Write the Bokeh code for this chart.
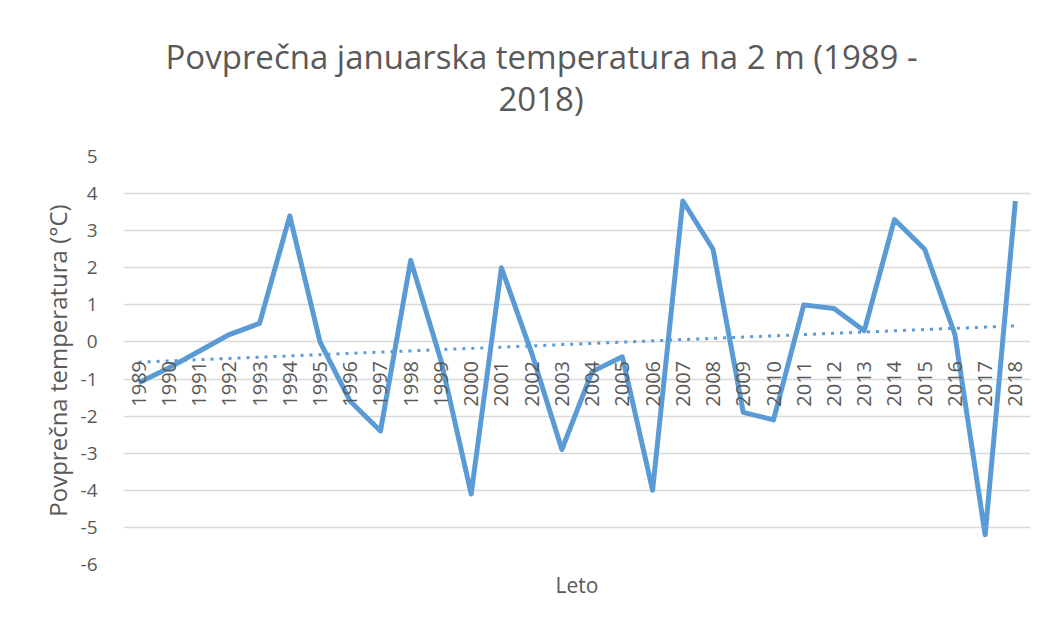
import numpy as np
from bokeh.plotting import figure
from bokeh.models import Range1d, FixedTicker, ColumnDataSource, Title
from bokeh.core.properties import value
from bokeh.embed import file_html
from bokeh.resources import INLINE

years = list(range(1989, 2019))
year_labels = [str(y) for y in years]
temps = [-1.1, -0.7, -0.25, 0.2, 0.5, 3.4, 0.0, -1.6, -2.4, 2.2,
         -0.5, -4.1, 2.0, -0.3, -2.9, -0.8, -0.4, -4.0, 3.8, 2.5,
         -1.9, -2.1, 1.0, 0.9, 0.3, 3.3, 2.5, 0.2, -5.2, 3.8]
y_ticks = [5, 4, 3, 2, 1, 0, -1, -2, -3, -4, -5, -6]

title_line1 = "Povprečna januarska temperatura na 2 m (1989 -"
title_line2 = "2018)"
FONT = "Open Sans"
GREY = "#595959"
BLUE = "#5B9BD5"

p = figure(width=1032, height=609, output_backend="svg", toolbar_location=None,
           x_range=Range1d(1988.5, 2018.5), y_range=Range1d(-6, 5),
           min_border_left=123, min_border_right=2, min_border_top=156,
           min_border_bottom=45)
p.title.visible = False

# title: two lines, stacked upward from the plot area
spacer = Title(text=" ", text_font=FONT, text_font_size="10px", standoff=20)
t2 = Title(text=title_line2, align="left", offset=375, text_font=FONT,
           text_font_size="33px", text_font_style="normal", text_color=GREY, standoff=0)
t1 = Title(text=title_line1, align="left", offset=42, text_font=FONT,
           text_font_size="33px", text_font_style="normal", text_color=GREY, standoff=-10)
p.add_layout(spacer, "above")
p.add_layout(t2, "above")
p.add_layout(t1, "above")

p.outline_line_color = None
p.background_fill_color = "white"

# y axis
p.yaxis.ticker = FixedTicker(ticks=y_ticks)
p.yaxis.major_label_overrides = {t: str(t) for t in y_ticks}
p.yaxis.axis_line_color = None
p.yaxis.major_tick_line_color = None
p.yaxis.minor_tick_line_color = None
p.yaxis.major_label_text_font = FONT
p.yaxis.major_label_text_font_size = "19px"
p.yaxis.major_label_text_color = GREY
p.yaxis.major_label_standoff = 20
p.yaxis.axis_label = "Povprečna temperatura (°C)"
p.yaxis.axis_label_text_font = FONT
p.yaxis.axis_label_text_font_size = "24px"
p.yaxis.axis_label_text_font_style = "normal"
p.yaxis.axis_label_text_color = GREY
p.yaxis.axis_label_standoff = 4

# x axis (only the title)
p.xaxis.ticker = FixedTicker(ticks=[])
p.xaxis.axis_line_color = None
p.xaxis.major_tick_line_color = None
p.xaxis.minor_tick_line_color = None
p.xaxis.major_label_text_font_size = "0px"
p.xaxis.axis_label = "Leto"
p.xaxis.axis_label_text_font = FONT
p.xaxis.axis_label_text_font_size = "21px"
p.xaxis.axis_label_text_font_style = "normal"
p.xaxis.axis_label_text_color = GREY
p.xaxis.axis_label_standoff = 6

p.xgrid.grid_line_color = None
p.ygrid.ticker = FixedTicker(ticks=y_ticks)
p.ygrid.grid_line_color = "#D9D9D9"
p.ygrid.grid_line_width = 1.5

src = ColumnDataSource(dict(x=years, y=temps, lab=year_labels, zero=[0] * len(years)))

# trend line (least squares fit of the data)
coef = np.polyfit(years, temps, 1)
trend = list(np.polyval(coef, years))
p.line(years, trend, line_color=BLUE, line_width=3, line_dash="3 6")

p.line("x", "y", source=src, line_color=BLUE, line_width=5, line_join="round")

# category labels along the zero line
p.text(x="x", y="zero", text="lab", source=src, angle=np.pi / 2,
       text_align="right", text_baseline="middle", y_offset=19,
       text_font=value(FONT), text_font_size="20px", text_color=GREY)

open("out.html", "w").write(file_html(p, INLINE))
